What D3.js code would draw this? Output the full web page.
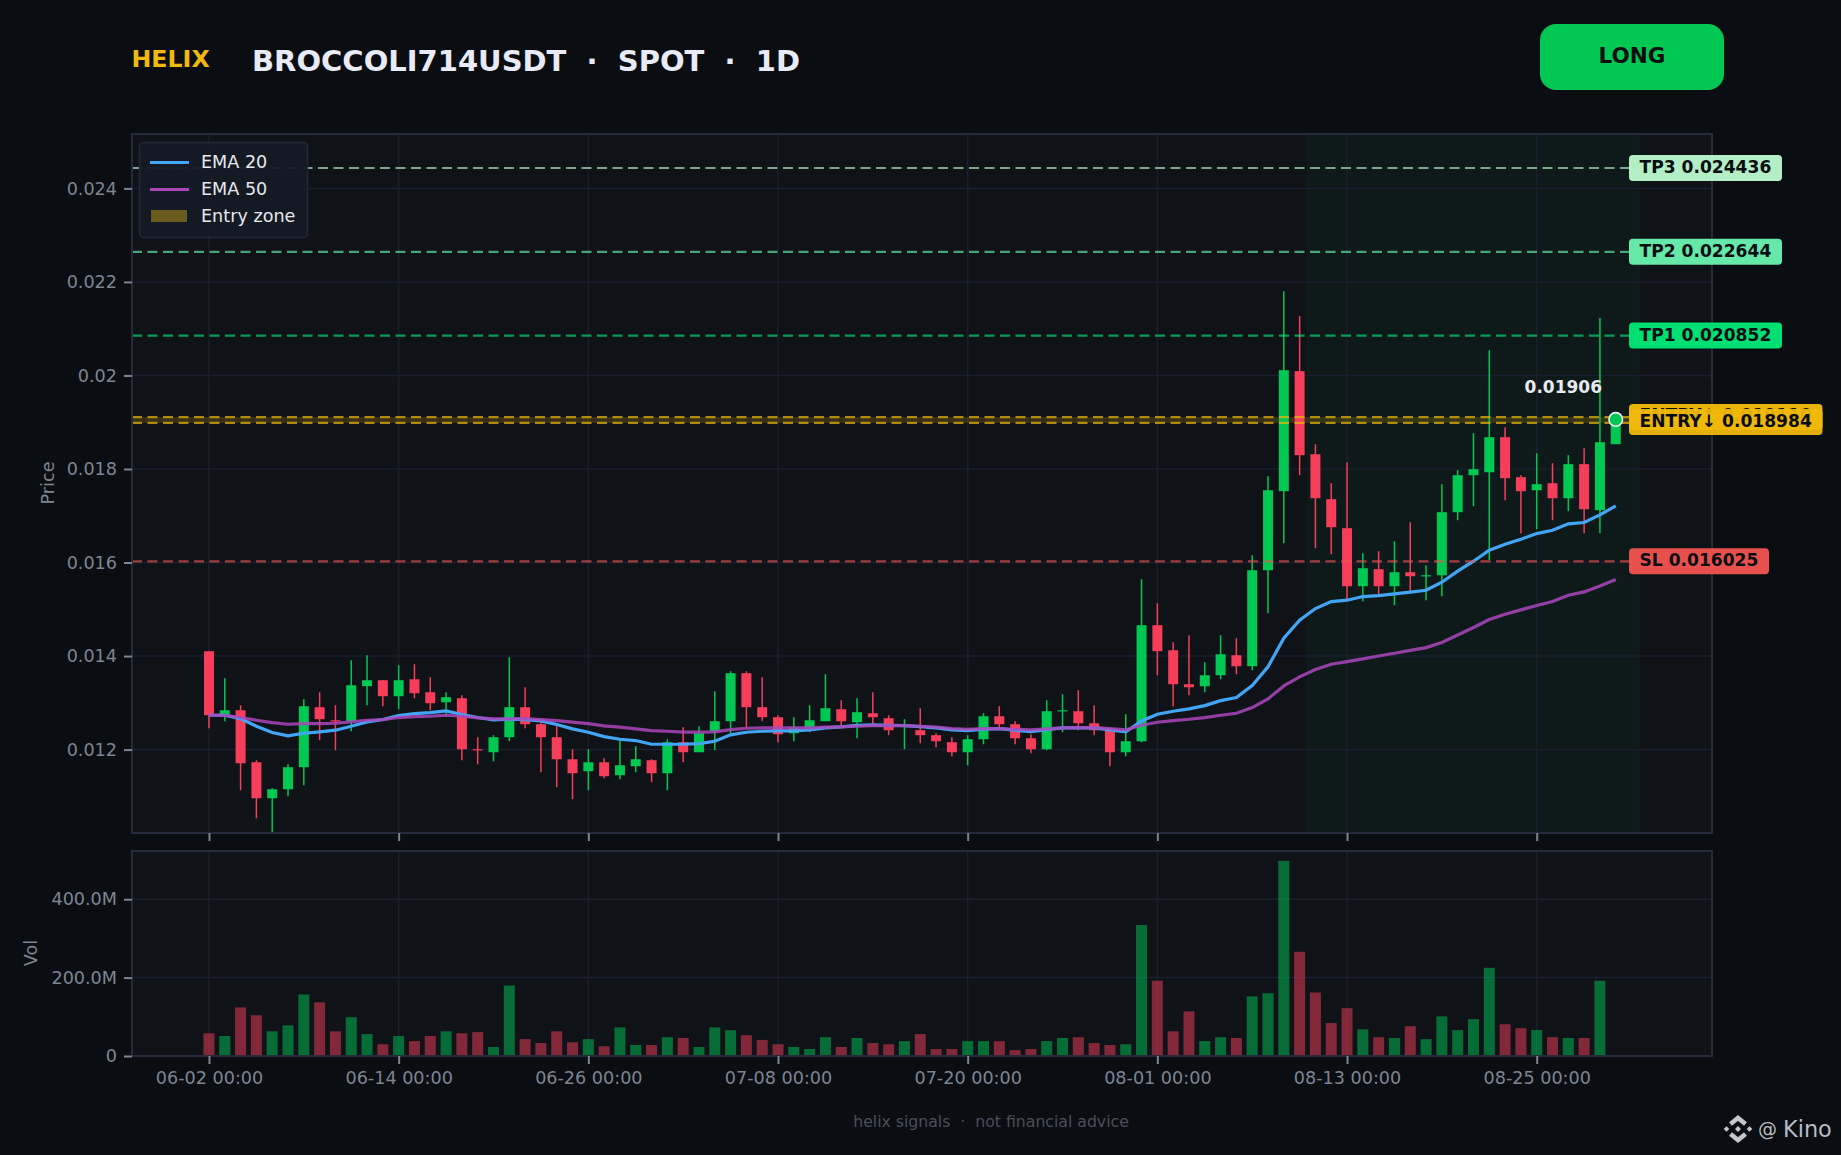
<!DOCTYPE html>
<html>
<head>
<meta charset="utf-8">
<title>BROCCOLI714USDT</title>
<script src="https://cdn.jsdelivr.net/npm/d3@7"></script>
<style>
  html, body { margin: 0; padding: 0; background: #0a0d12; }
  svg { display: block; }
  text { font-family: "DejaVu Sans", sans-serif; }
</style>
</head>
<body>
<svg id="chart"></svg>
<script>
const WIDTH = 1841;
const HEIGHT = 1155;

// candles, one per day from 06-02
const opens = [
  0.014103, 0.012734, 0.012841, 0.011729, 0.010959, 0.011152, 0.011622, 0.012906, 0.012627, 0.012606,
  0.013355, 0.013483, 0.013141, 0.013504, 0.013226, 0.013012, 0.013098, 0.012007, 0.011943, 0.012264,
  0.012906, 0.012542, 0.012264, 0.011793, 0.011537, 0.011729, 0.011451, 0.011644, 0.011772, 0.011494,
  0.012157, 0.011943, 0.012392, 0.012606, 0.013633, 0.012906, 0.012692, 0.012349, 0.012471, 0.012606,
  0.012863, 0.012585, 0.012777, 0.012670, 0.012499, 0.012414, 0.012307, 0.012157, 0.011943, 0.012221,
  0.012713, 0.012542, 0.012242, 0.012007, 0.012820, 0.012820, 0.012563, 0.012449, 0.011943, 0.012178,
  0.014659, 0.014124, 0.013397, 0.013354, 0.013589, 0.014017, 0.013782, 0.015835, 0.017525, 0.020092,
  0.018316, 0.017354, 0.016734, 0.015493, 0.015857, 0.015493, 0.015792, 0.015707, 0.015728, 0.017076,
  0.017867, 0.017931, 0.018680, 0.017825, 0.017546, 0.017696, 0.017375, 0.018103, 0.017119, 0.018530
];
const closes = [
  0.012734, 0.012841, 0.011708, 0.010959, 0.011152, 0.011622, 0.012927, 0.012649, 0.012606, 0.013376,
  0.013483, 0.013141, 0.013483, 0.013205, 0.012991, 0.013119, 0.012007, 0.011986, 0.012264, 0.012906,
  0.012542, 0.012264, 0.011793, 0.011494, 0.011729, 0.011430, 0.011665, 0.011793, 0.011494, 0.012157,
  0.011943, 0.012349, 0.012606, 0.013633, 0.012906, 0.012692, 0.012328, 0.012471, 0.012627, 0.012884,
  0.012606, 0.012799, 0.012692, 0.012414, 0.012528, 0.012307, 0.012178, 0.011943, 0.012221, 0.012713,
  0.012542, 0.012242, 0.012007, 0.012820, 0.012841, 0.012563, 0.012414, 0.011943, 0.012178, 0.014659,
  0.014103, 0.013397, 0.013333, 0.013589, 0.014038, 0.013782, 0.015835, 0.017546, 0.020113, 0.018295,
  0.017375, 0.016755, 0.015493, 0.015878, 0.015493, 0.015792, 0.015707, 0.015728, 0.017076, 0.017867,
  0.017996, 0.018680, 0.017803, 0.017525, 0.017675, 0.017375, 0.018103, 0.017140, 0.018573, 0.019060
];
const highs = [
  0.014103, 0.013526, 0.012948, 0.011772, 0.011173, 0.011686, 0.013077, 0.013226, 0.012948, 0.013911,
  0.014018, 0.013483, 0.013804, 0.013825, 0.013547, 0.013226, 0.013162, 0.012264, 0.012307, 0.013975,
  0.013333, 0.012585, 0.012499, 0.012007, 0.012007, 0.011815, 0.012200, 0.012071, 0.011793, 0.012221,
  0.012478, 0.012499, 0.013248, 0.013676, 0.013676, 0.013547, 0.012734, 0.012692, 0.012948, 0.013611,
  0.013055, 0.013098, 0.013226, 0.012734, 0.012649, 0.012884, 0.012349, 0.012264, 0.012307, 0.012777,
  0.012927, 0.012606, 0.012328, 0.013055, 0.013184, 0.013269, 0.012948, 0.012449, 0.012756, 0.015643,
  0.015129, 0.014295, 0.014445, 0.013867, 0.014445, 0.014381, 0.016156, 0.017846, 0.021803, 0.021268,
  0.018530, 0.017696, 0.018145, 0.016199, 0.016242, 0.016456, 0.016862, 0.015942, 0.017675, 0.017974,
  0.018766, 0.020541, 0.018894, 0.017867, 0.018338, 0.018124, 0.018295, 0.018445, 0.021226, 0.019060
];
const lows = [
  0.012456, 0.012606, 0.011130, 0.010531, 0.010232, 0.011002, 0.011237, 0.012200, 0.011986, 0.012392,
  0.012948, 0.012927, 0.012863, 0.013098, 0.012841, 0.012734, 0.011772, 0.011686, 0.011750, 0.012178,
  0.012456, 0.011515, 0.011194, 0.010938, 0.011130, 0.011387, 0.011365, 0.011515, 0.011301, 0.011130,
  0.011729, 0.011943, 0.011986, 0.012342, 0.012478, 0.012606, 0.012157, 0.012178, 0.012371, 0.012606,
  0.012499, 0.012242, 0.012542, 0.012307, 0.012007, 0.012135, 0.012050, 0.011857, 0.011665, 0.012114,
  0.012449, 0.012114, 0.011922, 0.011986, 0.012371, 0.012414, 0.012307, 0.011644, 0.011857, 0.012156,
  0.013589, 0.012926, 0.013161, 0.013226, 0.013504, 0.013611, 0.013696, 0.014915, 0.016413, 0.017867,
  0.016306, 0.016177, 0.015194, 0.015172, 0.015300, 0.015087, 0.015365, 0.015194, 0.015279, 0.016905,
  0.017204, 0.016049, 0.017332, 0.016627, 0.016712, 0.016905, 0.017097, 0.016627, 0.016627, 0.018530
];
const volumes = [
  58, 51, 124, 104, 63, 78, 157, 137, 63, 99,
  56, 30, 51, 38, 51, 63, 58, 61, 23, 180,
  43, 33, 63, 35, 43, 25, 73, 28, 28, 48,
  46, 23, 73, 66, 53, 41, 30, 23, 18, 48,
  23, 46, 33, 30, 38, 56, 18, 18, 38, 38,
  38, 15, 18, 38, 46, 48, 33, 28, 30, 334,
  192, 63, 114, 38, 48, 46, 152, 160, 498, 266,
  162, 84, 122, 68, 48, 46, 76, 43, 101, 66,
  94, 225, 81, 71, 66, 48, 46, 46, 192, 1
];
const ema20 = [
  0.012734, 0.012734, 0.012663, 0.012499, 0.012364, 0.012292, 0.012349, 0.012378, 0.012414, 0.012499,
  0.012592, 0.012642, 0.012727, 0.012770, 0.012791, 0.012827, 0.012749, 0.012685, 0.012635, 0.012649,
  0.012642, 0.012613, 0.012535, 0.012442, 0.012371, 0.012278, 0.012221, 0.012193, 0.012114, 0.012114,
  0.012114, 0.012128, 0.012178, 0.012314, 0.012371, 0.012392, 0.012399, 0.012399, 0.012421, 0.012463,
  0.012485, 0.012520, 0.012528, 0.012520, 0.012513, 0.012492, 0.012463, 0.012421, 0.012406, 0.012435,
  0.012449, 0.012414, 0.012385, 0.012428, 0.012463, 0.012471, 0.012463, 0.012421, 0.012377, 0.012612,
  0.012755, 0.012819, 0.012869, 0.012940, 0.013047, 0.013112, 0.013368, 0.013768, 0.014381, 0.014766,
  0.015015, 0.015165, 0.015194, 0.015272, 0.015293, 0.015329, 0.015365, 0.015407, 0.015579, 0.015814,
  0.016028, 0.016263, 0.016391, 0.016498, 0.016619, 0.016690, 0.016826, 0.016855, 0.017019, 0.017211
];
const ema50 = [
  0.012734, 0.012734, 0.012685, 0.012627, 0.012578, 0.012542, 0.012556, 0.012556, 0.012563, 0.012592,
  0.012627, 0.012642, 0.012685, 0.012706, 0.012713, 0.012734, 0.012713, 0.012677, 0.012656, 0.012656,
  0.012663, 0.012642, 0.012620, 0.012585, 0.012556, 0.012506, 0.012478, 0.012442, 0.012406, 0.012392,
  0.012371, 0.012371, 0.012378, 0.012428, 0.012456, 0.012463, 0.012463, 0.012463, 0.012463, 0.012478,
  0.012485, 0.012499, 0.012513, 0.012513, 0.012513, 0.012499, 0.012478, 0.012449, 0.012435, 0.012449,
  0.012449, 0.012435, 0.012421, 0.012442, 0.012463, 0.012471, 0.012471, 0.012449, 0.012421, 0.012520,
  0.012584, 0.012620, 0.012648, 0.012684, 0.012734, 0.012776, 0.012898, 0.013083, 0.013361, 0.013554,
  0.013710, 0.013825, 0.013880, 0.013940, 0.014000, 0.014060, 0.014120, 0.014180, 0.014290, 0.014450,
  0.014610, 0.014780, 0.014894, 0.014987, 0.015080, 0.015165, 0.015300, 0.015372, 0.015500, 0.015636
];

const tickIndex = [0, 12, 24, 36, 48, 60, 72, 84];
const tickLabels = ["06-02 00:00", "06-14 00:00", "06-26 00:00", "07-08 00:00", "07-20 00:00", "08-01 00:00", "08-13 00:00", "08-25 00:00"];
const priceTicks = [0.012, 0.014, 0.016, 0.018, 0.02, 0.022, 0.024];
const volumeTicks = [0, 200, 400];

const levelNames = ["TP3", "TP2", "TP1", "SL"];
const levelPrices = [0.024436, 0.022644, 0.020852, 0.016025];
const levelColors = ["#b9f6ca", "#69f0ae", "#00e676", "#ef5350"];
const entryHigh = 0.01911;
const entryLow = 0.018984;
const lastPrice = 0.01906;

const UP = "#00c853";
const DOWN = "#f63d5a";
const GOLD = "#f0b90b";
const GRID = "#1a1e2e";
const SPINE = "#262b3b";
const PANEL = "#0f1318";
const TICK = "#7d8592";

const left = 132, right = 1712;
const mainTop = 134, mainBottom = 833;
const volTop = 851, volBottom = 1056;

const x = d3.scaleLinear().domain([-4.87, 95.09]).range([left, right]);
const y = d3.scaleLinear().domain([0.010216, 0.025163]).range([mainBottom, mainTop]);
const yVol = d3.scaleLinear().domain([0, 523]).range([volBottom, volTop]);

const svg = d3.select("#chart").attr("width", WIDTH).attr("height", HEIGHT)
  .attr("viewBox", `0 0 ${WIDTH} ${HEIGHT}`);

// header
svg.append("text").attr("x", 131.5).attr("y", 67).attr("fill", GOLD)
  .attr("font-size", 23.7).attr("font-weight", "bold").text("HELIX");
svg.append("text").attr("x", 252).attr("y", 71).attr("fill", "#e8eaf6")
  .attr("font-size", 29).attr("font-weight", "bold")
  .style("white-space", "pre").text("BROCCOLI714USDT  ·  SPOT  ·  1D");
svg.append("rect").attr("x", 1540).attr("y", 24).attr("width", 184).attr("height", 66)
  .attr("rx", 16).attr("fill", UP);
svg.append("text").attr("x", 1632).attr("y", 63).attr("text-anchor", "middle").attr("fill", "#0a0d12")
  .attr("font-size", 21.5).attr("font-weight", "bold").text("LONG");

// panels
[[mainTop, mainBottom], [volTop, volBottom]].forEach(([t, b]) => {
  svg.append("rect").attr("x", left).attr("y", t).attr("width", right - left).attr("height", b - t).attr("fill", PANEL);
});

// last 21 bars are tinted
svg.append("rect").attr("x", x(69.5)).attr("y", mainTop).attr("width", x(90.5) - x(69.5)).attr("height", mainBottom - mainTop)
  .attr("fill", UP).attr("fill-opacity", 0.04).attr("stroke", UP).attr("stroke-opacity", 0.05);

// grid
const grid = svg.append("g").attr("stroke", GRID).attr("stroke-width", 1.5);
grid.selectAll(".gm").data(tickIndex).enter().append("line")
  .attr("x1", d => x(d)).attr("x2", d => x(d)).attr("y1", mainTop).attr("y2", mainBottom);
grid.selectAll(".gv").data(tickIndex).enter().append("line")
  .attr("x1", d => x(d)).attr("x2", d => x(d)).attr("y1", volTop).attr("y2", volBottom);
grid.selectAll(".gp").data(priceTicks).enter().append("line")
  .attr("x1", left).attr("x2", right).attr("y1", d => y(d)).attr("y2", d => y(d));
grid.selectAll(".gq").data(volumeTicks.slice(1)).enter().append("line")
  .attr("x1", left).attr("x2", right).attr("y1", d => yVol(d)).attr("y2", d => yVol(d));

// entry zone
svg.append("rect").attr("x", left).attr("width", x(90.5) - left + 4)
  .attr("y", y(entryHigh)).attr("height", y(entryLow) - y(entryHigh))
  .attr("fill", GOLD).attr("fill-opacity", 0.18);

// volume
const indices = d3.range(opens.length);
svg.append("g").selectAll("rect").data(indices).enter().append("rect")
  .attr("x", i => x(i) - 5.5).attr("width", 11)
  .attr("y", i => yVol(volumes[i])).attr("height", i => yVol(0) - yVol(volumes[i]))
  .attr("fill", i => closes[i] >= opens[i] ? UP : DOWN).attr("fill-opacity", 0.5);

// candles
const candles = svg.append("g");
candles.selectAll(".wick").data(indices).enter().append("line")
  .attr("x1", i => x(i)).attr("x2", i => x(i))
  .attr("y1", i => y(highs[i])).attr("y2", i => y(lows[i]))
  .attr("stroke", i => closes[i] >= opens[i] ? UP : DOWN).attr("stroke-width", 1.5);
candles.selectAll(".body").data(indices).enter().append("rect")
  .attr("x", i => x(i) - 5).attr("width", 10)
  .attr("y", i => y(Math.max(opens[i], closes[i])))
  .attr("height", i => Math.max(1.2, Math.abs(y(opens[i]) - y(closes[i]))))
  .attr("fill", i => closes[i] >= opens[i] ? UP : DOWN);

// ema lines
const emaLine = d3.line().x((_, i) => x(i)).y(d => y(d));
svg.append("path").attr("d", emaLine(ema20)).attr("fill", "none").attr("stroke", "#42a5f5").attr("stroke-width", 3.2);
svg.append("path").attr("d", emaLine(ema50)).attr("fill", "none").attr("stroke", "#ab47bc").attr("stroke-width", 3.2).attr("stroke-opacity", 0.85);

// level lines
const levelEnd = x(90.5) - 8;
levelPrices.forEach((p, i) => {
  svg.append("line").attr("x1", left).attr("x2", levelEnd).attr("y1", y(p)).attr("y2", y(p))
    .attr("stroke", levelColors[i]).attr("stroke-width", 2.2).attr("stroke-opacity", 0.65)
    .attr("stroke-dasharray", "10 5.5");
});
[entryHigh, entryLow].forEach(p => {
  svg.append("line").attr("x1", left).attr("x2", levelEnd).attr("y1", y(p)).attr("y2", y(p))
    .attr("stroke", GOLD).attr("stroke-width", 2.2).attr("stroke-opacity", 0.7)
    .attr("stroke-dasharray", "10 5.5");
});

// spines
[[mainTop, mainBottom], [volTop, volBottom]].forEach(([t, b]) => {
  svg.append("rect").attr("x", left).attr("y", t).attr("width", right - left).attr("height", b - t)
    .attr("fill", "none").attr("stroke", SPINE).attr("stroke-width", 2);
});

// axes
function styleAxis(g) {
  g.select(".domain").remove();
  g.selectAll(".tick line").attr("stroke", TICK).attr("stroke-width", 2);
  g.selectAll(".tick text").attr("fill", TICK).attr("font-size", 17.6)
    .attr("font-family", "DejaVu Sans");
}
svg.append("g").attr("transform", `translate(${left},0)`)
  .call(d3.axisLeft(y).tickValues(priceTicks).tickFormat(d3.format("~g")).tickSize(8).tickPadding(7))
  .call(styleAxis);
svg.append("g").attr("transform", `translate(${left},0)`)
  .call(d3.axisLeft(yVol).tickValues(volumeTicks).tickFormat(d => d === 0 ? "0" : d.toFixed(1) + "M").tickSize(8).tickPadding(7))
  .call(styleAxis);
svg.append("g").attr("transform", `translate(0,${mainBottom})`)
  .call(d3.axisBottom(x).tickValues(tickIndex).tickFormat("").tickSize(8))
  .call(styleAxis);
svg.append("g").attr("transform", `translate(0,${volBottom})`)
  .call(d3.axisBottom(x).tickValues(tickIndex).tickFormat((_, i) => tickLabels[i]).tickSize(8).tickPadding(8))
  .call(styleAxis);

svg.append("text").attr("transform", "translate(54,483) rotate(-90)").attr("text-anchor", "middle")
  .attr("fill", TICK).attr("font-size", 17.6).text("Price");
svg.append("text").attr("transform", "translate(37,953) rotate(-90)").attr("text-anchor", "middle")
  .attr("fill", TICK).attr("font-size", 17.6).text("Vol");

// level tags
function tag(label, price, fill, boxWidth, alpha = 0.97, textDy = 5) {
  const cy = y(price);
  svg.append("rect").attr("x", 1629).attr("y", cy - 13).attr("width", boxWidth).attr("height", 26)
    .attr("rx", 4).attr("fill", fill).attr("fill-opacity", alpha);
  svg.append("text").attr("x", 1639.5).attr("y", cy + textDy).attr("fill", "#0a0d12")
    .attr("font-size", 17.1).attr("font-weight", "bold").text(label);
}
levelNames.forEach((n, i) => {
  tag(`${n} ${levelPrices[i]}`, levelPrices[i], levelColors[i], n === "SL" ? 140 : 153);
});
// upper tag sits almost fully under the lower one
tag(`ENTRY↑ ${entryHigh.toFixed(6)}`, entryHigh, GOLD, 193.5, 0.97, 3.5);
tag(`ENTRY↓ ${entryLow}`, entryLow + 0.00002, GOLD, 193.5, 0.94);

// last price
svg.append("text").attr("x", 1602).attr("y", 392.5).attr("text-anchor", "end").attr("fill", "#e8eaf2")
  .attr("font-size", 17).attr("font-weight", "bold").text(lastPrice);
svg.append("circle").attr("cx", x(89)).attr("cy", y(lastPrice)).attr("r", 6.8)
  .attr("fill", UP).attr("stroke", "#eef0f7").attr("stroke-width", 1.6);

// legend
const legend = svg.append("g");
legend.append("rect").attr("x", 139.5).attr("y", 142.5).attr("width", 168).attr("height", 95)
  .attr("rx", 4).attr("fill", "#151a24").attr("fill-opacity", 0.95).attr("stroke", "#232838").attr("stroke-width", 1.5);
legend.append("line").attr("x1", 150).attr("x2", 189).attr("y1", 162.5).attr("y2", 162.5).attr("stroke", "#42a5f5").attr("stroke-width", 3.2);
legend.append("line").attr("x1", 150).attr("x2", 189).attr("y1", 189.5).attr("y2", 189.5).attr("stroke", "#ab47bc").attr("stroke-width", 3.2);
legend.append("rect").attr("x", 151).attr("y", 210).attr("width", 36).attr("height", 12).attr("fill", "#6b5a1d");
["EMA 20", "EMA 50", "Entry zone"].forEach((t, i) => {
  legend.append("text").attr("x", 201).attr("y", 168 + i * 27).attr("fill", "#e6e8ee")
    .attr("font-size", 17.6).text(t);
});

// footer
svg.append("text").attr("x", 991).attr("y", 1127).attr("text-anchor", "middle").attr("fill", "#4a4f5b")
  .attr("font-size", 15.7).style("white-space", "pre").text("helix signals  ·  not financial advice");

// watermark
const mark = svg.append("g").attr("transform", "translate(1738,1129)").attr("fill", "#c4c6ca");
const diamond = d3.path();
[[-11.5, 0, 2.8], [11.5, 0, 2.8], [0, 0, 3]].forEach(([cx, cy, s]) => {
  diamond.moveTo(cx, cy - s);
  diamond.lineTo(cx + s, cy);
  diamond.lineTo(cx, cy + s);
  diamond.lineTo(cx - s, cy);
  diamond.closePath();
});
mark.append("path").attr("d", diamond.toString());
[-1, 1].forEach(s => {
  const chevron = d3.path();
  chevron.moveTo(-7.5, s * 5);
  chevron.lineTo(0, s * 11);
  chevron.lineTo(7.5, s * 5);
  mark.append("path").attr("d", chevron.toString()).attr("fill", "none")
    .attr("stroke", "#c4c6ca").attr("stroke-width", 4.6);
});
svg.append("text").attr("x", 1758).attr("y", 1136).attr("fill", "#b8bbc0").attr("font-size", 19).text("@");
svg.append("text").attr("x", 1783).attr("y", 1137).attr("fill", "#b8bcc6").attr("font-size", 22.4).text("Kino");
</script>
</body>
</html>
